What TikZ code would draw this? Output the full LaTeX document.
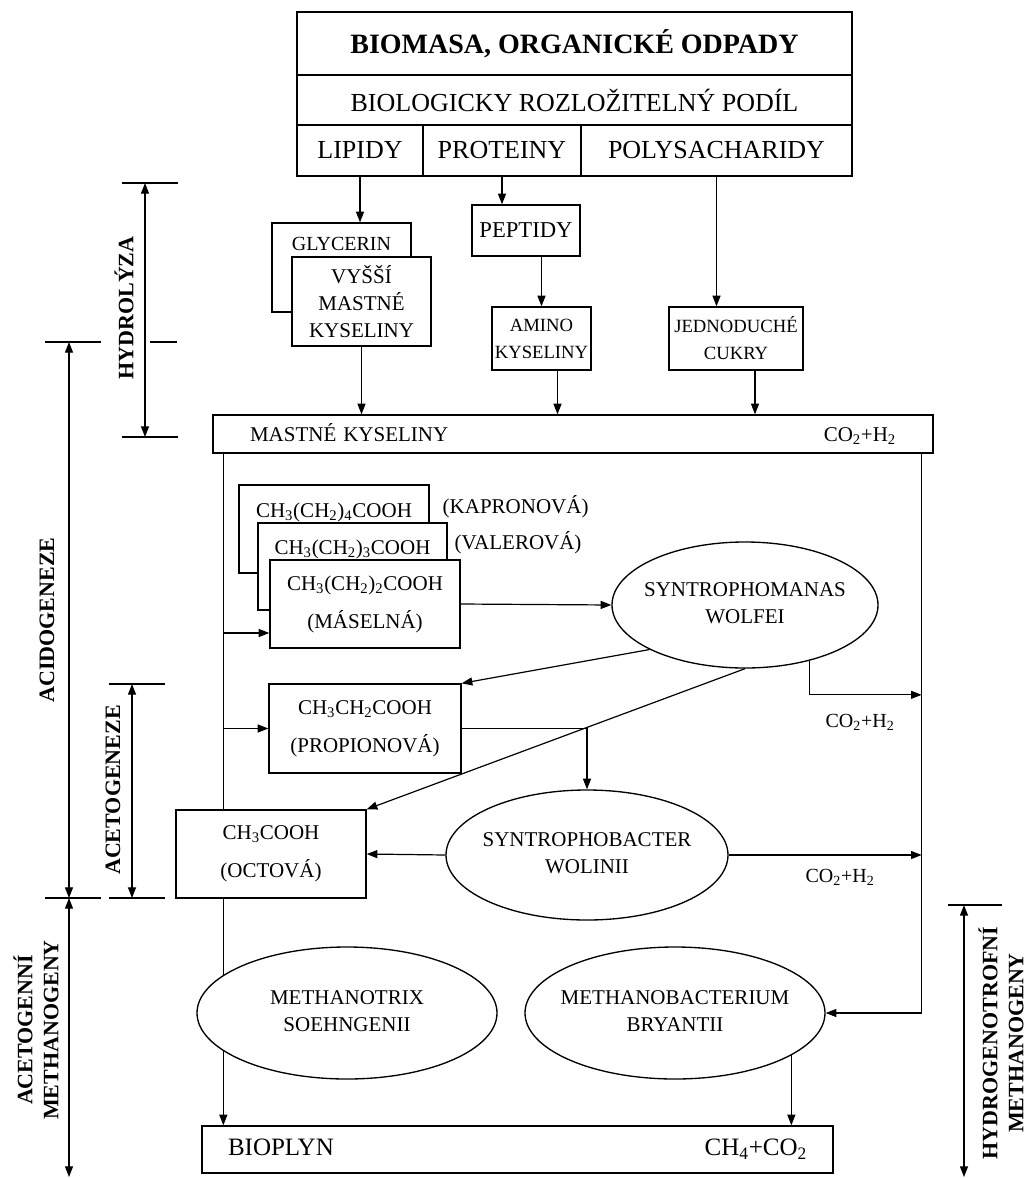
\documentclass[tikz,border=0pt]{standalone}
\usepackage{fontspec}
\setmainfont{Liberation Serif}
\usetikzlibrary{
    positioning,
    arrows.meta,
    shapes.geometric,
    calc,
    backgrounds,
}
\newcommand\fsz[2]{\fontsize{#1}{#2}\selectfont}
\newcommand\elab[1]{\makebox[0pt]{\begin{tabular}{@{}c@{}}#1\end{tabular}}}
\newcommand\lo[1]{\textsubscript{#1}}
\tikzset{
    % Box styles
    box/.style={rectangle, draw, line width=1pt, fill=white, inner sep=0pt,
                align=center, font=\fsz{15.75pt}{20.25pt}},
    sz/.style 2 args={minimum width=#1*0.75pt, minimum height=#2*0.75pt},
    chem box/.style={box, font=\fsz{15.75pt}{28.5pt}},
    bug/.style={ellipse, draw, line width=1pt, fill=white, inner sep=0pt,
                font=\fsz{15.75pt}{20.25pt}},
    gas/.style={font=\fsz{15pt}{18pt}},
    % Arrow styles
    arr/.style={-{Triangle[length=8pt, width=6pt]}, line width=0.9pt},
    dim/.style={{Triangle[length=8pt, width=6pt]}-{Triangle[length=8pt, width=6pt]}, line width=0.9pt},
    tick/.style={line width=0.9pt},
    % Phase labels
    phase/.style={font=\bfseries\fsz{16.5pt}{19.5pt}, align=center, rotate=90},
}

\begin{document}
\begin{tikzpicture}[x=0.75pt, y=-0.75pt]
    \useasboundingbox (0,0) rectangle (1027,1178);

    % Biomass
    \node[box, sz={555}{63}, font=\bfseries\fsz{21pt}{24pt}] (biomasa) at (574.5,43.5) {BIOMASA, ORGANICKÉ ODPADY};
    \node[box, sz={555}{50}, font=\fsz{19.5pt}{23pt}] (podil) at (574.5,100) {BIOLOGICKY ROZLOŽITELNÝ PODÍL};
    \node[box, sz={126}{51}, font=\fsz{19.5pt}{23pt}] (lipidy) at (360,150.5) {LIPIDY};
    \node[box, sz={158}{51}, font=\fsz{19.5pt}{23pt}] (proteiny) at (502,150.5) {PROTEINY};
    \node[box, sz={271}{51}, font=\fsz{19.5pt}{23pt}] (polysach) at (716.5,150.5) {POLYSACHARIDY};

    % Hydrolysis
    \node[chem box, sz={139}{89}, font=\fsz{15pt}{36pt}] (glycerin) at (341.5,267.5) {GLYCERIN\\\mbox{}};
    \node[box, sz={139}{89}] (vyssi) at (361.5,301.5) {VYŠŠÍ\\MASTNÉ\\KYSELINY};
    \node[box, sz={108}{51}, font=\fsz{17pt}{20pt}] (peptidy) at (526,230.5) {PEPTIDY};
    \node[box, sz={99}{63}, font=\fsz{14pt}{20.25pt}] (amino) at (541.5,338.5) {AMINO\\KYSELINY};
    \node[box, sz={134}{63}, font=\fsz{14pt}{20.25pt}] (cukry) at (736,338.5) {JEDNODUCHÉ\\CUKRY};
    \node[box, sz={720}{38}, inner xsep=27.75pt, text width=484.5pt, align=left] (mastne) at (573,434)
        {MASTNÉ KYSELINY\hfill CO\lo{2}+H\lo{2}};

    % Acids
    \node[chem box, sz={190}{88}] (kapron) at (334,529) {CH\lo{3}(CH\lo{2})\lo{4}COOH\\\mbox{}};
    \node[chem box, sz={189}{87}] (valer) at (352.5,566.5) {CH\lo{3}(CH\lo{2})\lo{3}COOH\\\mbox{}};
    \node[chem box, sz={190}{88}] (maselna) at (365,604) {CH\lo{3}(CH\lo{2})\lo{2}COOH\\(MÁSELNÁ)};
    \node[anchor=west, font=\fsz{15.75pt}{19pt}] (kapronlab) at (438,507) {(KAPRONOVÁ)};
    \node[anchor=west, font=\fsz{15.75pt}{19pt}] (valerlab) at (450,543) {(VALEROVÁ)};
    \node[bug, sz={266}{126}] (wolfei) at (745,605) {\elab{SYNTROPHOMANAS\\WOLFEI}};
    \node[chem box, sz={192}{89}] (propion) at (365,728.5) {CH\lo{3}CH\lo{2}COOH\\(PROPIONOVÁ)};
    \node[bug, sz={282}{130}] (wolinii) at (587,855) {\elab{SYNTROPHOBACTER\\WOLINII}};
    \node[chem box, sz={190}{88}] (octova) at (271,854) {CH\lo{3}COOH\\(OCTOVÁ)};
    \node[gas] (gasA) at (860,722) {CO\lo{2}+H\lo{2}};
    \node[gas] (gasB) at (840,877) {CO\lo{2}+H\lo{2}};

    % Methanogens
    \node[bug, sz={300}{132}] (mtrix) at (347,1013) {\elab{METHANOTRIX\\SOEHNGENII}};
    \node[bug, sz={300}{132}] (mbact) at (675,1013) {\elab{METHANOBACTERIUM\\BRYANTII}};
    \node[box, sz={631}{47}, inner xsep=19.5pt, text width=434.25pt, align=left, font=\fsz{18.75pt}{22pt}] (bioplyn) at (517.5,1149.5)
        {BIOPLYN\hfill CH\lo{4}+CO\lo{2}};

    % Arrows
    \draw[arr] (lipidy.south) -- (lipidy.south |- glycerin.north);
    \draw[arr] (proteiny.south) -- (proteiny.south |- peptidy.north);
    \draw[arr] (polysach.south) -- (polysach.south |- cukry.north);
    \draw[arr] (amino.north |- peptidy.south) -- (amino.north);
    \draw[arr] (vyssi.south) -- (vyssi.south |- mastne.north);
    \coordinate (aminoOut) at ($(amino.south)+(16,0)$);
    \coordinate (cukryOut) at ($(cukry.south)+(19,0)$);
    \draw[arr] (aminoOut) -- (aminoOut |- mastne.north);
    \draw[arr] (cukryOut) -- (cukryOut |- mastne.north);

    \coordinate (trunkL) at ($(mastne.south west)+(11,0)$);
    \coordinate (trunkR) at ($(mastne.south east)+(-12,0)$);
    \coordinate (inM) at ($(maselna.west)+(0,29)$);
    \draw[tick] (trunkL) -- (trunkL |- octova.north);
    \draw[arr] (trunkL |- inM) -- (inM);
    \draw[arr] (trunkL |- propion.west) -- (propion.west);
    \draw[arr] (maselna.east) -- (wolfei.west);
    \draw[arr] (wolfei.205) -- (propion.north east);
    \draw[arr] (wolfei.south) -- (octova.north east);
    \draw[arr] (wolfei.-41) -- ++(0,34) coordinate (wolfBend) -- (wolfBend -| trunkR);
    \draw[arr] (propion.east) -| (wolinii.north);
    \draw[arr] (wolinii.west) -- (octova.east);
    \draw[arr] (wolinii.east) -- (wolinii.east -| trunkR);
    \draw[arr] (trunkR) |- (mbact.east);
    \draw[arr] (mbact.-20) -- (mbact.-20 |- bioplyn.north);
    \begin{scope}[on background layer]
        \draw[arr] (trunkL |- octova.south) -- (trunkL |- bioplyn.north);
    \end{scope}

    % Phases
    \foreach \xa/\xb/\yy in {122/178/183, 122/178/437, 150/177/342, 45/101/342,
                             45/101/898, 109/165/898, 109/165/684, 948/1002/905}
        \draw[tick] (\xa,\yy) -- (\xb,\yy);
    \draw[dim] (145,183) -- (145,437);
    \draw[dim] (69,342) -- (69,898);
    \draw[dim] (132,684) -- (132,898);
    \draw[dim] (69,898) -- (69,1177);
    \draw[dim] (964,905) -- (964,1177);
    \node[phase] (hydro) at (124,308) {HYDROLÝZA};
    \node[phase] (acido) at (47,620) {ACIDOGENEZE};
    \node[phase] (aceto) at (113,790) {ACETOGENEZE};
    \node[phase] (acmeth) at (36,1030) {ACETOGENNÍ\\METHANOGENY};
    \node[phase] (hymeth) at (1001,1043) {HYDROGENOTROFNÍ\\METHANOGENY};
\end{tikzpicture}
\end{document}
